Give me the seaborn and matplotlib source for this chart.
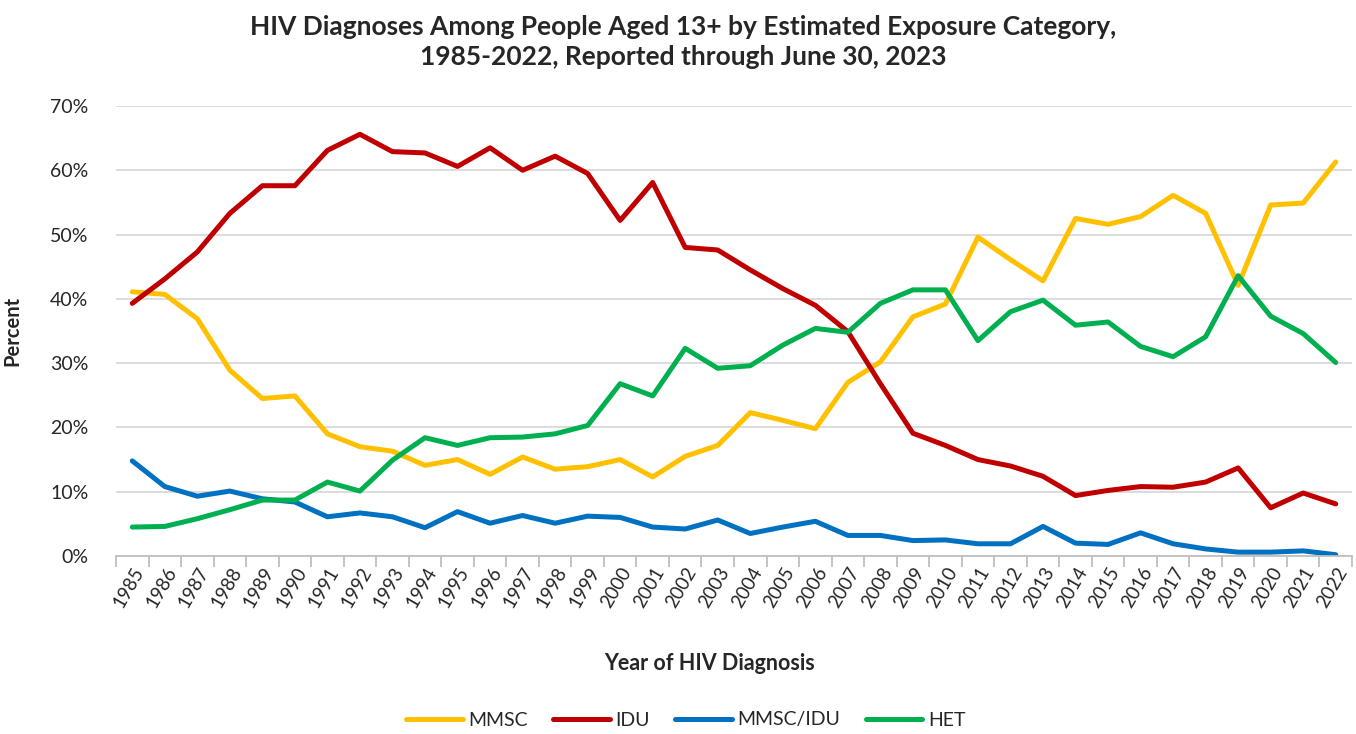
import matplotlib
matplotlib.use("Agg")
import matplotlib.pyplot as plt
import seaborn as sns
import pandas as pd
import numpy as np
from matplotlib.ticker import FuncFormatter, FixedLocator
from matplotlib.lines import Line2D

years = list(range(1985, 2023))
mmsc = [41.1, 40.7, 36.9, 28.9, 24.5, 24.9, 19.0, 17.0, 16.3, 14.1, 15.0, 12.7, 15.4,
        13.5, 13.9, 15.0, 12.3, 15.5, 17.2, 22.3, 21.1, 19.8, 27.0, 30.2, 37.2,
        39.2, 49.6, 46.1, 42.8, 52.5, 51.6, 52.8, 56.1, 53.3, 42.1, 54.6, 54.9, 61.3]
idu = [39.3, 43.1, 47.3, 53.3, 57.6, 57.6, 63.1, 65.6, 62.9, 62.7, 60.6, 63.5, 60.0,
       62.2, 59.5, 52.2, 58.1, 48.0, 47.6, 44.5, 41.6, 39.0, 34.9, 26.8, 19.1,
       17.2, 15.0, 14.0, 12.4, 9.4, 10.2, 10.8, 10.7, 11.5, 13.7, 7.5, 9.8, 8.1]
mmsc_idu = [14.8, 10.8, 9.3, 10.1, 8.9, 8.4, 6.1, 6.7, 6.1, 4.4, 6.9, 5.1, 6.3,
            5.1, 6.2, 6.0, 4.5, 4.2, 5.6, 3.5, 4.5, 5.4, 3.2, 3.2, 2.4,
            2.5, 1.9, 1.9, 4.6, 2.0, 1.8, 3.6, 1.9, 1.1, 0.6, 0.6, 0.8, 0.2]
het = [4.5, 4.6, 5.8, 7.2, 8.7, 8.7, 11.5, 10.1, 14.9, 18.4, 17.2, 18.4, 18.5,
       19.0, 20.3, 26.8, 24.9, 32.3, 29.2, 29.6, 32.8, 35.4, 34.8, 39.3, 41.4,
       41.4, 33.5, 38.0, 39.8, 35.9, 36.4, 32.6, 31.0, 34.1, 43.6, 37.3, 34.6, 30.1]
series_names = ["MMSC", "IDU", "MMSC/IDU", "HET"]
colors = ["#FFC000", "#C00000", "#0070C0", "#00B050"]

frames = []
for name, vals in zip(series_names, [mmsc, idu, mmsc_idu, het]):
    frames.append(pd.DataFrame({"Year": years, "Percent": vals, "Category": name}))
df = pd.concat(frames, ignore_index=True)

sns.set_theme(style="white")
plt.rcParams['font.family'] = ['Lato', 'DejaVu Sans']

fig = plt.figure(figsize=(13.56, 7.34), dpi=100)
ax = fig.add_axes([116/1356, 1-556/734, (1352-116)/1356, (556-106)/734])

sns.lineplot(data=df, x="Year", y="Percent", hue="Category", hue_order=series_names,
             palette=colors, linewidth=3.6, ax=ax, legend=False,
             solid_capstyle="round", solid_joinstyle="round")

ax.set_xlim(1984.5, 2022.5)
ax.set_ylim(0, 70)
ax.set_yticks(np.arange(0, 71, 10))
ax.yaxis.set_major_formatter(FuncFormatter(lambda v, p: f"{int(v)}%"))
ax.grid(axis="y", color="#d9d9d9", linewidth=1.3)
ax.grid(axis="x", visible=False)
ax.set_axisbelow(True)

ax.set_xticks(years)
ax.set_xticklabels([str(y) for y in years], rotation=60, ha="right", rotation_mode="anchor", fontsize=13.5)
ax.tick_params(axis="x", which="major", length=0, pad=6)
ax.xaxis.set_minor_locator(FixedLocator(np.arange(1984.5, 2023, 1.0)))
ax.tick_params(axis="x", which="minor", length=8, color="#bfbfbf", width=1.3, direction="out", bottom=True)
ax.tick_params(axis="y", length=0, labelsize=14, pad=20)

for s in ["top", "right", "left"]:
    ax.spines[s].set_visible(False)
ax.spines["bottom"].set_color("#bfbfbf")
ax.spines["bottom"].set_linewidth(1.3)

ax.set_ylabel("Percent", fontsize=14.5, fontweight="bold", labelpad=20)
ax.set_xlabel("")
fig.text(710/1356, 1-663/734, "Year of HIV Diagnosis", fontsize=15.5, fontweight="bold",
         ha="center", va="center")

fig.text(683/1356, 1-42/734,
         "HIV Diagnoses Among People Aged 13+ by Estimated Exposure Category,\n1985-2022, Reported through June 30, 2023",
         fontsize=19, fontweight="bold", ha="center", va="center", linespacing=1.3)

handles = [Line2D([0], [0], color=c, linewidth=3.6, solid_capstyle="round") for c in colors]
fig.legend(handles, series_names, loc="center", bbox_to_anchor=(686/1356, 1-720/734),
           ncol=4, frameon=False, fontsize=14, handlelength=2.9, columnspacing=1.3,
           handletextpad=0.3)

fig.savefig("out.png", dpi=100)
